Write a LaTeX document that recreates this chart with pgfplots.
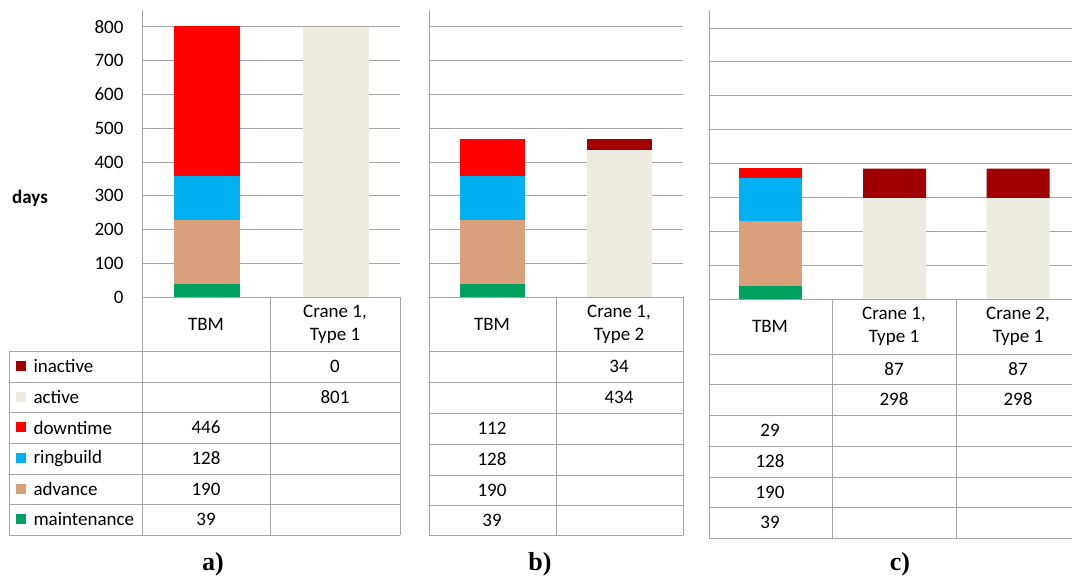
\documentclass[border=0pt]{standalone}
\usepackage{pgfplots}
\pgfplotsset{compat=1.18}
\usepackage{pgfplotstable}
\usepackage{fontspec}
\setmainfont{Carlito}
\newfontfamily\labelfont{Liberation Serif}

\definecolor{maint}{RGB}{0,160,96}
\definecolor{adv}{RGB}{217,160,123}
\definecolor{ring}{RGB}{0,176,240}
\definecolor{down}{RGB}{255,0,0}
\definecolor{act}{RGB}{238,236,225}
\definecolor{inact}{RGB}{160,0,0}
\definecolor{gridgray}{RGB}{165,165,165}

% days per state, one table per panel
\pgfplotstableread{
x maint adv ring down act inact
0 39 190 128 446 0 0
1 0 0 0 0 801 0
}\dataA
\pgfplotstableread{
x maint adv ring down act inact
0 39 190 128 112 0 0
1 0 0 0 0 434 34
}\dataB
\pgfplotstableread{
x maint adv ring down act inact
0 39 190 128 29 0 0
1 0 0 0 0 298 87
2 0 0 0 0 298 87
}\dataC

\newcommand{\txt}{\fontsize{19}{23}\selectfont}

\pgfplotsset{
  panel/.style={
    scale only axis, anchor=south west,
    ybar stacked, ymin=0, ymax=850,
    ytick={0,100,...,800}, ymajorgrids,
    grid style={draw=gridgray, line width=0.8pt},
    axis x line=none, axis y line*=left,
    y axis line style={draw=gridgray, line width=0.8pt},
    xtick=\empty, major tick length=0pt,
    yticklabels={},
  },
}

\newcommand{\bars}[1]{%
  \addplot[fill=maint, draw=none] table[x=x, y=maint]{#1};
  \addplot[fill=adv, draw=none] table[x=x, y=adv]{#1};
  \addplot[fill=ring, draw=none] table[x=x, y=ring]{#1};
  \addplot[fill=down, draw=none] table[x=x, y=down]{#1};
  \addplot[fill=act, draw=none] table[x=x, y=act]{#1};
  \addplot[fill=inact, draw=none] table[x=x, y=inact]{#1};
}

\begin{document}
\begin{tikzpicture}[x=1pt, y=1pt]
\path[use as bounding box] (0,0) rectangle (1072,580);

% panel a
\begin{axis}[panel, at={(142pt,283pt)}, width=258pt, height=287pt,
  xmin=-0.5, xmax=1.5, bar width=66pt,
  yticklabels={0,100,200,300,400,500,600,700,800},
  yticklabel style={font=\txt, xshift=-15pt},
  /pgf/number format/assume math mode=true]
  \bars{\dataA}
\end{axis}

% panel b
\begin{axis}[panel, at={(429pt,283pt)}, width=254pt, height=287pt,
  xmin=-0.5, xmax=1.5, bar width=65pt]
  \bars{\dataB}
\end{axis}

% panel c
\begin{axis}[panel, at={(709pt,281pt)}, width=371pt, height=288pt,
  xmin=-0.5, xmax=2.5, bar width=63pt]
  \bars{\dataC}
\end{axis}

\begin{scope}[yshift=580pt, yscale=-1, font=\txt]
  \node[font=\txt\bfseries] at (30,198) {days};

  % table a
  \draw[gridgray, line width=0.8pt]
    (142,297) -- (400,297)
    (9,351) -- (400,351) (9,382) -- (400,382) (9,412) -- (400,412)
    (9,443) -- (400,443) (9,474) -- (400,474) (9,504) -- (400,504)
    (9,535) -- (400,535)
    (9,351) -- (9,535) (142,297) -- (142,535) (270,297) -- (270,535)
    (400,297) -- (400,535);
  \fill[inact] (16,361.5) rectangle (26,371.5);
  \fill[act] (16,392) rectangle (26,402);
  \fill[down] (16,422.5) rectangle (26,432.5);
  \fill[ring] (16,453.5) rectangle (26,463.5);
  \fill[adv] (16,484) rectangle (26,494);
  \fill[maint] (16,514.5) rectangle (26,524.5);
  \node[anchor=west] at (30,366.5) {inactive};
  \node[anchor=west] at (30,397) {active};
  \node[anchor=west] at (30,427.5) {downtime};
  \node[anchor=west] at (30,458.5) {ringbuild};
  \node[anchor=west] at (30,489) {advance};
  \node[anchor=west] at (30,519.5) {maintenance};
  \node at (206,324) {TBM};
  \node[align=center] at (335,324) {Crane 1,\\Type 1};
  \node at (335,366.5) {0};
  \node at (335,397) {801};
  \node at (206,427.5) {446};
  \node at (206,458.5) {128};
  \node at (206,489) {190};
  \node at (206,519.5) {39};

  % table b
  \draw[gridgray, line width=0.8pt]
    (429,297) -- (683,297) (429,351) -- (683,351) (429,382) -- (683,382)
    (429,413) -- (683,413) (429,444) -- (683,444) (429,475) -- (683,475)
    (429,505) -- (683,505) (429,535) -- (683,535)
    (429,297) -- (429,535) (556,297) -- (556,535) (683,297) -- (683,535);
  \node at (492,324) {TBM};
  \node[align=center] at (619,324) {Crane 1,\\Type 2};
  \node at (619,366.5) {34};
  \node at (619,397.5) {434};
  \node at (492,428.5) {112};
  \node at (492,459.5) {128};
  \node at (492,490) {190};
  \node at (492,520) {39};

  % table c
  \draw[gridgray, line width=0.8pt]
    (709,299) -- (1080,299) (709,354) -- (1080,354) (709,384) -- (1080,384)
    (709,415) -- (1080,415) (709,446) -- (1080,446) (709,477) -- (1080,477)
    (709,507) -- (1080,507) (709,538) -- (1080,538)
    (709,299) -- (709,538) (832,299) -- (832,538) (956,299) -- (956,538);
  \node at (770,326.5) {TBM};
  \node[align=center] at (894,326.5) {Crane 1,\\Type 1};
  \node[align=center] at (1018,326.5) {Crane 2,\\Type 1};
  \node at (894,369) {87};
  \node at (1018,369) {87};
  \node at (894,399.5) {298};
  \node at (1018,399.5) {298};
  \node at (770,430.5) {29};
  \node at (770,461.5) {128};
  \node at (770,492) {190};
  \node at (770,522.5) {39};

  \node[font=\labelfont\bfseries\fontsize{26}{30}\selectfont] at (213,564) {a)};
  \node[font=\labelfont\bfseries\fontsize{26}{30}\selectfont] at (540,564) {b)};
  \node[font=\labelfont\bfseries\fontsize{26}{30}\selectfont] at (900,564) {c)};
\end{scope}
\end{tikzpicture}
\end{document}
